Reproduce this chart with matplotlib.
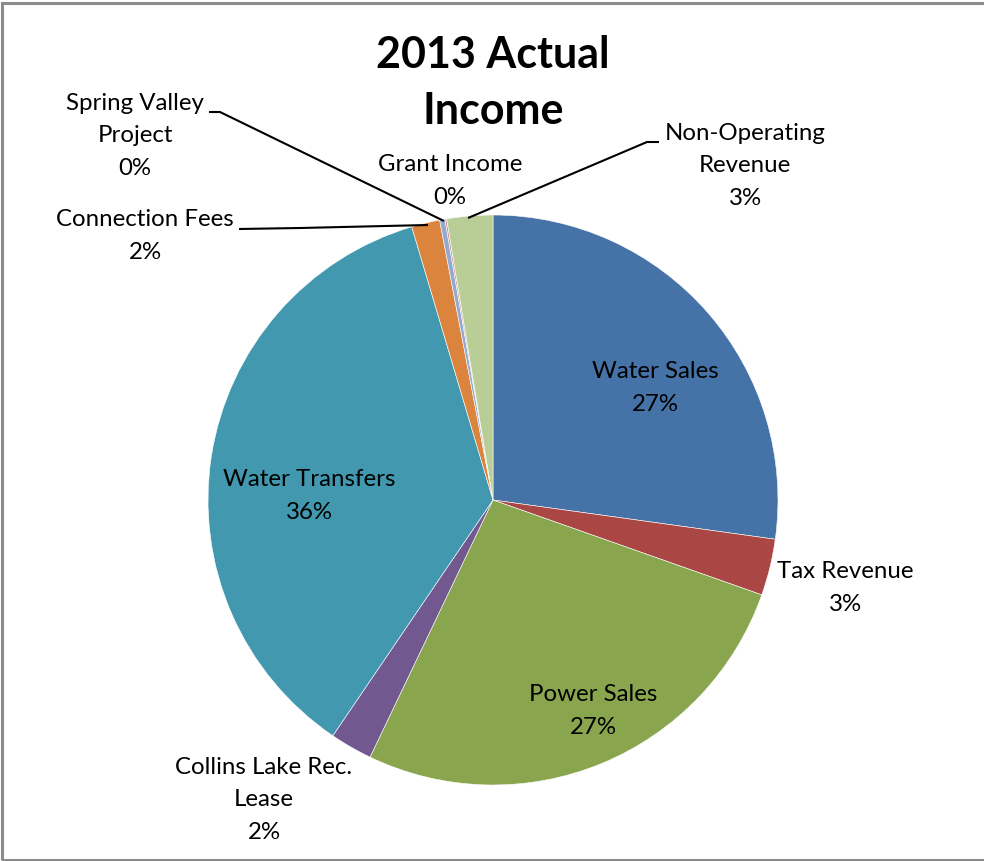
import matplotlib
matplotlib.use("Agg")
import matplotlib.pyplot as plt
from matplotlib.patches import Rectangle

# Income categories in drawing order (clockwise from 12 o'clock)
categories = ["Water Sales", "Tax Revenue", "Power Sales", "Collins Lake Rec.\nLease",
              "Water Transfers", "Connection Fees", "Spring Valley\nProject",
              "Grant Income", "Non-Operating\nRevenue"]
shares = [27.2, 3.2, 26.7, 2.4, 35.9, 1.6, 0.3, 0.1, 2.6]
colors = ["#4572A7", "#AA4643", "#89A54E", "#71588F", "#4198AF",
          "#DB843D", "#93A9CF", "#D19392", "#B9CD96"]
title = "2013 Actual\nIncome"

W, H = 984, 861
CX, CY, R = 493, 500, 285

plt.rcParams['font.family'] = ['Lato', 'DejaVu Sans']
fig = plt.figure(figsize=(W / 100, H / 100), dpi=100)
fig.patch.set_facecolor("white")

# Outer chart frame
fig.add_artist(Rectangle((1.5 / W, 1.5 / H), 1.2, (H - 4) / H, transform=fig.transFigure,
                         fill=False, edgecolor="#8c8c8c", linewidth=2.2))

ax = fig.add_axes([(CX - R) / W, (H - CY - R) / H, 2 * R / W, 2 * R / H])
ax.pie(shares, colors=colors, startangle=90, counterclock=False, radius=1.0,
       wedgeprops=dict(edgecolor="white", linewidth=0.4))
ax.set_xlim(-1, 1)
ax.set_ylim(-1, 1)
ax.set_aspect("equal")
ax.axis("off")


def px(x, y):
    """Pixel position -> pie data coordinates."""
    return (x - CX) / R, (CY - y) / R


# Label centres (pixel positions)
label_pos = [(655, 388), (845, 588), (593, 711), (264, 800), (309, 496),
             (145, 236), (135, 136), (450, 181), (745, 166)]

for name, val, (lx, ly) in zip(categories, shares, label_pos):
    txt = f"{name}\n{val:.0f}%"
    x, y = px(lx, ly)
    ax.text(x, y, txt, ha="center", va="center", fontsize=17.3, color="black",
            linespacing=1.65, clip_on=False)

# Leader lines for the small slices
leaders = [
    [(209, 112), (220, 112), (444, 221)],   # Spring Valley Project
    [(239, 229), (300, 228), (428, 225)],   # Connection Fees
    [(659, 142), (647, 142), (468, 218)],   # Non-Operating Revenue
]
for pts in leaders:
    xs, ys = zip(*[px(a, b) for a, b in pts])
    ax.plot(xs, ys, color="black", linewidth=1.5, clip_on=False, solid_capstyle="butt")

tx, ty = px(493, 83)
ax.text(tx, ty, title, ha="center", va="center", fontsize=31, fontweight="bold",
        linespacing=1.47, clip_on=False)

fig.savefig("out.png", dpi=100, facecolor="white")
